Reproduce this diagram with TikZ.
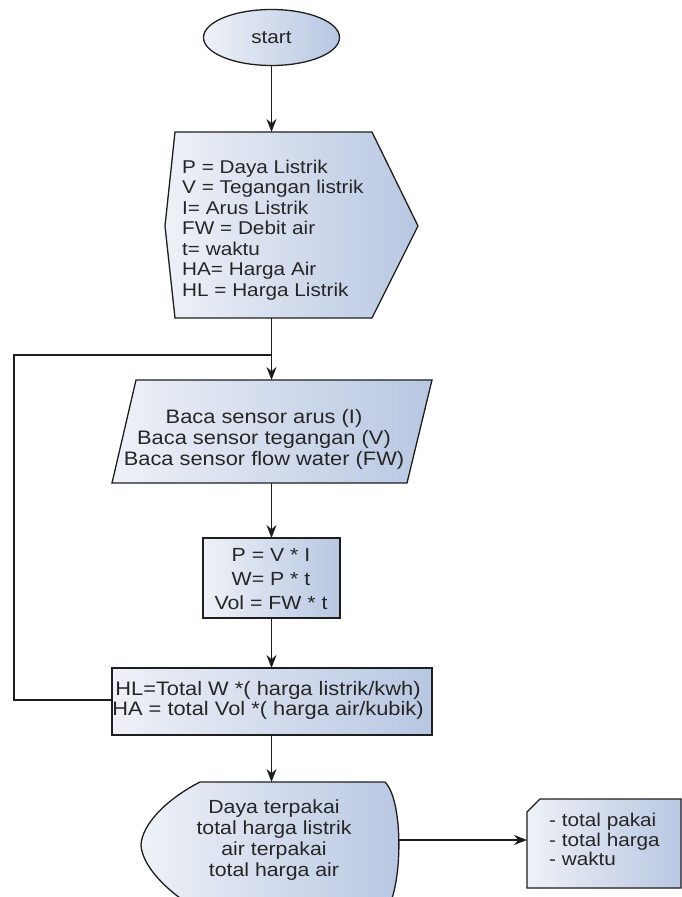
\documentclass[tikz,border=0pt]{standalone}
\usepackage{fontspec}
\setmainfont[FakeStretch=1.12]{Liberation Sans}
\usetikzlibrary{arrows.meta}
\definecolor{fillL}{RGB}{238,241,247}
\definecolor{fillR}{RGB}{184,199,226}
\definecolor{lineC}{RGB}{30,30,30}
\begin{document}
\begin{tikzpicture}[x=1pt,y=-1pt,
  shp/.style={draw=lineC, line width=1.3pt, left color=fillL, right color=fillR},
  conn/.style={draw=lineC, line width=1.3pt},
  arr/.style={conn, -{Stealth[length=13pt,width=10pt]}},
  txt/.style={font=\fontsize{18.5}{20.5}\selectfont, inner sep=0pt, align=center, text=black!85}]
\useasboundingbox (0,0) rectangle (682,897);
\clip (0,0) rectangle (682,897);

% start
\path[shp] (271.5,37.5) ellipse [x radius=68, y radius=28];
\node[txt] (start) at (271.5,37.5) {start};
\coordinate (startB) at (271.5,65.5);

% preparation hexagon
\path[shp] (175,132) -- (372,132) -- (418,226) -- (372,318) -- (175,318) -- (165,226) -- cycle;
\coordinate (hexT) at (271.5,132);
\coordinate (hexB) at (271.5,318);
\node[txt, align=left, anchor=west] (prep) at (182,230) {P = Daya Listrik\\V = Tegangan listrik\\I= Arus Listrik\\FW = Debit air\\t= waktu\\HA= Harga Air\\HL = Harga Listrik};

% input parallelogram
\path[shp] (136,380) -- (432,380) -- (407,483) -- (112,483) -- cycle;
\coordinate (parT) at (271.5,380);
\coordinate (parB) at (271.5,483);
\node[txt, font=\fontsize{19.5}{21}\selectfont] (input) at (264,439.5) {Baca sensor arus (I)\\Baca sensor tegangan (V)\\Baca sensor flow water (FW)};

% process
\path[shp] (203,538) rectangle (340,618);
\coordinate (recT) at (271.5,538);
\coordinate (recB) at (271.5,618);
\node[txt, font=\fontsize{19}{24}\selectfont] (calc) at (271,579.5) {P = V * I\\W= P * t\\Vol = FW * t};

% process 2
\path[shp] (112,668) rectangle (432,735);
\coordinate (rec2T) at (271.5,668);
\coordinate (rec2B) at (271.5,735);
\coordinate (rec2L) at (112,700);
\node[txt, font=\fontsize{19.5}{20}\selectfont] (cost) at (268,700.5) {HL=Total W *( harga listrik/kwh)\\HA = total Vol *( harga air/kubik)};

% display
\path[shp] (200,782) -- (385,782) .. controls (403,800) and (403,880) .. (388,908) -- (195,908)
  .. controls (165,890) and (142,865) .. (141,845) .. controls (142,825) and (165,800) .. (200,782) -- cycle;
\coordinate (dispT) at (271.5,782);
\coordinate (dispR) at (398,840);
\node[txt, font=\fontsize{19}{21}\selectfont] (show) at (274,840.5) {Daya terpakai\\total harga listrik\\air terpakai\\total harga air};

% card
\path[shp] (527,812) -- (540,799) -- (681,799) -- (681,888) -- (527,888) -- cycle;
\coordinate (cardL) at (527,840);
\node[txt, align=left, anchor=west, font=\fontsize{18.5}{19.5}\selectfont] (out) at (549,839.5) {- total pakai\\- total harga\\- waktu};

% loop
\coordinate (loopBL) at (14,700);
\coordinate (loopTL) at (14,355);
\coordinate (loopJ) at (271.5,355);

% connectors
\draw[arr] (startB) -- (hexT);
\draw[arr] (hexB) -- (parT);
\draw[arr] (parB) -- (recT);
\draw[arr] (recB) -- (rec2T);
\draw[arr] (rec2B) -- (dispT);
\draw[conn] (rec2L) -- (loopBL) -- (loopTL) -- (loopJ);
\draw[arr] (dispR) -- (cardL);
\end{tikzpicture}
\end{document}
